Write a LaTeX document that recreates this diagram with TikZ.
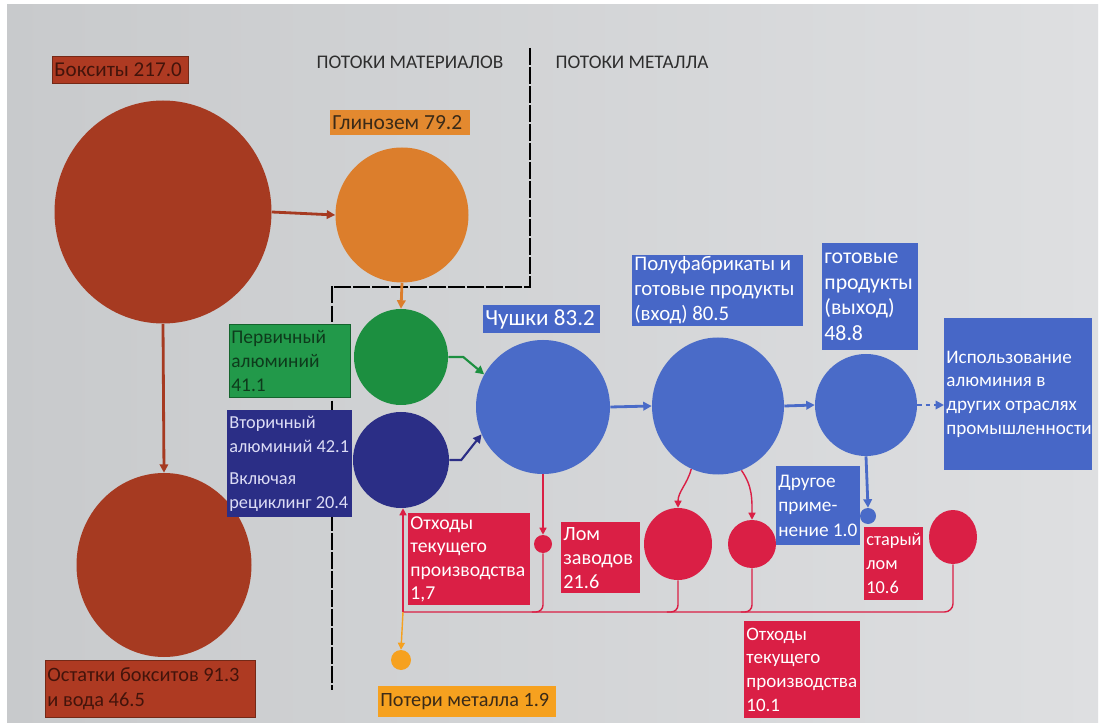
\documentclass[tikz,border=0pt]{standalone}
\usepackage{fontspec}
\setmainfont{Carlito}
\usetikzlibrary{arrows.meta,shapes.geometric}

\definecolor{bxRed}{HTML}{A63A21}
\definecolor{bxRedBox}{HTML}{AE3A22}
\definecolor{bxRedText}{HTML}{43140B}
\definecolor{aluOr}{HTML}{DC7E2C}
\definecolor{aluOrBox}{HTML}{E3892F}
\definecolor{primGr}{HTML}{1C8F40}
\definecolor{primGrBox}{HTML}{22994A}
\definecolor{primGrText}{HTML}{0E3B1C}
\definecolor{secNv}{HTML}{2B2E86}
\definecolor{secNvText}{HTML}{DCDCF5}
\definecolor{metBlue}{HTML}{4A6BC8}
\definecolor{metBlueBox}{HTML}{4767C7}
\definecolor{scrapRed}{HTML}{DA1F45}
\definecolor{lossOr}{HTML}{F6A11F}
\definecolor{darkTxt}{HTML}{3A2A18}
\definecolor{headTxt}{HTML}{2E2E2E}
\definecolor{bgLeft}{HTML}{C8CACC}
\definecolor{bgRight}{HTML}{DEDFE1}

\tikzset{
  disc/.style 2 args={ellipse, inner sep=0pt, minimum width=#1*0.025cm, minimum height=#2*0.025cm},
  box/.style 2 args={rectangle, anchor=north west, inner xsep=1.5pt, inner ysep=1pt,
    minimum width=#1*0.025cm, minimum height=#2*0.025cm,
    text width=#1*0.025cm-3pt, align=flush left},
  fs/.style 2 args={font=\fontsize{#1}{#2}\selectfont},
  flowtip/.style={-{Triangle[length=6pt,width=6pt]}},
  smalltip/.style={-{Triangle[length=5pt,width=5pt]}},
  bxline/.style={draw=bxRed, line width=2pt, flowtip},
  blueline/.style={draw=metBlue, line width=2pt, flowtip},
  redline/.style={draw=scrapRed, line width=1pt},
  divider/.style={draw=black, line width=1.4pt, dash pattern=on 12pt off 1.5pt},
  redbox/.style={fill=scrapRed, text=white},
  bluebox/.style={fill=metBlueBox, text=white},
  heading/.style={text=headTxt, fs={13.7}{16}}
}

\begin{document}
\begin{tikzpicture}[x=0.025cm, y=-0.025cm]
\useasboundingbox (0,0) rectangle (1105,727);
\fill[white] (0,0) rectangle (1105,727);
\shade[left color=bgLeft, right color=bgRight] (7,5) rectangle (1098,722);

% boundary between material flows and metal flows
\coordinate (dvTop) at (530,48);
\coordinate (dvCorner) at (530,287);
\coordinate (dvStep) at (332,287);
\coordinate (dvBottom) at (332,690);
\draw[divider] (dvTop) -- (dvCorner) -- (dvStep) -- (dvBottom);

\node[heading, anchor=center] (hMat) at (410,62) {ПОТОКИ МАТЕРИАЛОВ};
\node[heading, anchor=center] (hMet) at (632,62) {ПОТОКИ МЕТАЛЛА};

% material circles
\node[disc={217}{223}, fill=bxRed] (baux) at (163,212) {};
\node[disc={175}{184}, fill=bxRed] (res) at (164,565) {};
\node[disc={133}{135}, fill=aluOr] (alu) at (402,215) {};
\node[disc={94}{96}, fill=primGr] (prim) at (401,357) {};
\node[disc={96}{96}, fill=secNv] (sec) at (401,460) {};

% metal circles
\node[disc={134}{134}, fill=metBlue] (ingot) at (543,407) {};
\node[disc={132}{137}, fill=metBlue] (semi) at (718,406) {};
\node[disc={102}{102}, fill=metBlue] (fin) at (866,405) {};
\node[disc={16}{16}, fill=metBlue] (other) at (868,516) {};

% scrap circles
\node[disc={18}{18}, fill=scrapRed] (scrapA) at (543,544) {};
\node[disc={68}{72}, fill=scrapRed] (scrapB) at (678,544) {};
\node[disc={48}{48}, fill=scrapRed] (scrapC) at (752,544) {};
\node[disc={48}{54}, fill=scrapRed] (scrapD) at (953,537) {};
\node[disc={20}{20}, fill=lossOr] (loss) at (401,660) {};

% material flows
\draw[bxline] (baux.east) -- (alu.west);
\draw[bxline] (baux.south) -- (res.north);
\draw[draw=aluOr, line width=2pt, flowtip] (alu.south) -- (prim.north);
\draw[draw=primGr, line width=1.5pt, flowtip] (prim.east) -- ++(15,0) -- (ingot.151);
\draw[draw=secNv, line width=1.5pt, flowtip] (sec.east) -- ++(12,0) -- (ingot.204);

% metal flows
\draw[blueline] (ingot.east) -- (semi.west);
\draw[blueline] (semi.east) -- (fin.west);
\draw[blueline] (fin.south) -- (other.north);

% scrap flows
\draw[redline, smalltip] (ingot.south) -- (scrapA.north);
\draw[redline, smalltip] (semi.247) to[out=255, in=90] (scrapB.north);
\draw[redline, smalltip] (semi.290) to[out=-55, in=90] (scrapC.north);

% scrap return line back to secondary aluminium
\coordinate (ret) at (403,612);
\draw[redline, rounded corners=6pt] (scrapD.south) |- (ret);
\draw[redline, rounded corners=5pt] (scrapA.south) |- ([xshift=-8]ret -| scrapA.south);
\draw[redline, rounded corners=5pt] (scrapB.south) |- ([xshift=-8]ret -| scrapB.south);
\draw[redline, rounded corners=5pt] (scrapC.south) |- ([xshift=-8]ret -| scrapC.south);
\draw[redline, smalltip] (ret) -- (ret |- sec.south);
\draw[draw=lossOr, line width=1pt, smalltip] (ret) -- (loss.north);

% labels
\node[box={136}{27}, fill=bxRedBox, draw=bxRed!70!black, text=bxRedText,
      fs={15}{18}] (bauxLbl) at (52,56) {Бокситы 217.0};
\node[box={140}{25}, fill=aluOrBox, text=darkTxt,
      fs={15.3}{18}] (aluLbl) at (330,110) {Глинозем 79.2};
\node[box={121}{73}, fill=primGrBox, draw=primGr!70!black, text=primGrText, fs={13.8}{17}]
      (primLbl) at (229,324) {Первичный\\алюминий\\41.1};
\node[box={125}{107}, fill=secNv, text=secNvText, fs={13}{17}]
      (secLbl) at (227,410) {Вторичный\\алюминий 42.1\\[6pt]Включая\\рециклинг 20.4};
\node[box={117}{28}, fill=metBlueBox, text=white,
      fs={16.4}{19}] (ingotLbl) at (483,305) {Чушки 83.2};
\node[box={171}{70}, bluebox, fs={14.8}{17.8}] (semiLbl) at (632,255)
      {Полуфабрикаты и\\готовые продукты\\(вход) 80.5};
\node[box={96}{107}, bluebox, fs={15.5}{18.3}] (finLbl) at (822,243)
      {готовые\\продукты\\(выход)\\48.8};
\node[box={148}{152}, bluebox, fs={13.6}{17}] (useLbl) at (944,318)
      {Использование\\алюминия в\\других отраслях\\промышленности};
\node[box={84}{79}, bluebox, fs={13.7}{17.4}] (otherLbl) at (776,466)
      {Другое\\приме-\\нение 1.0};
\node[box={122}{92}, redbox, fs={14}{16.6}] (wasteALbl) at (408,513)
      {Отходы\\текущего\\производства\\1,7};
\node[box={79}{71}, redbox, fs={14.4}{17}] (plantLbl) at (561,522) {Лом\\заводов\\21.6};
\node[box={59}{73}, redbox, fs={13}{17}] (oldLbl) at (864,527) {старый\\лом\\10.6};
\node[box={116}{97}, redbox, fs={13.5}{17}] (wasteBLbl) at (744,621)
      {Отходы\\текущего\\производства\\10.1};
\node[box={178}{31}, fill=lossOr, text=darkTxt,
      fs={14.4}{17}] (lossLbl) at (378,686) {Потери металла 1.9};
\node[box={210}{57}, fill=bxRedBox, draw=bxRed!70!black, text=bxRedText,
      fs={14.5}{18}] (resLbl) at (45,660)
      {Остатки бокситов 91.3\\и вода 46.5};

% flow into other industries
\draw[draw=metBlue, line width=1.5pt, dashed, flowtip] (fin.east) -- (fin.east -| useLbl.west);
\end{tikzpicture}
\end{document}
